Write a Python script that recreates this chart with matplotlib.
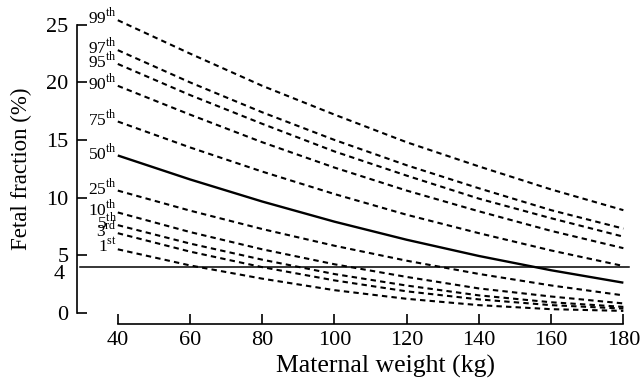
import numpy as np
import matplotlib
matplotlib.use("Agg")
import matplotlib.pyplot as plt
import matplotlib.transforms as mtransforms

plt.rcParams['font.family'] = ['Liberation Serif', 'DejaVu Serif']
plt.rcParams['mathtext.fontset'] = 'custom'
plt.rcParams['mathtext.rm'] = 'Liberation Serif'

# maternal weight (kg)
weight = [40, 60, 80, 100, 120, 140, 160, 180]

# fetal fraction (%) per centile
centiles = ['99', '97', '95', '90', '75', '50', '25', '10', '5', '3', '1']
suffixes = ['th', 'th', 'th', 'th', 'th', 'th', 'th', 'th', 'th', 'rd', 'st']
p99 = [25.4, 22.5, 19.7, 17.2, 14.8, 12.7, 10.7, 8.9]
p97 = [22.8, 20.0, 17.4, 15.0, 12.8, 10.8, 8.9, 7.3]
p95 = [21.6, 18.9, 16.4, 14.0, 11.9, 9.9, 8.2, 6.6]
p90 = [19.7, 17.2, 14.8, 12.6, 10.6, 8.8, 7.1, 5.6]
p75 = [16.6, 14.35, 12.25, 10.3, 8.5, 6.9, 5.4, 4.05]
p50 = [13.65, 11.57, 9.65, 7.9, 6.33, 4.92, 3.68, 2.6]
p25 = [10.6, 8.86, 7.26, 5.81, 4.51, 3.36, 2.36, 1.5]
p10 = [8.7, 7.0, 5.5, 4.2, 3.1, 2.1, 1.4, 0.8]
p5 = [7.6, 6.0, 4.6, 3.35, 2.35, 1.5, 0.9, 0.5]
p3 = [6.9, 5.3, 3.95, 2.8, 1.85, 1.15, 0.65, 0.35]
p1 = [5.5, 4.1, 2.95, 1.95, 1.2, 0.65, 0.3, 0.15]
series = [p99, p97, p95, p90, p75, p50, p25, p10, p5, p3, p1]

cutoff = 4

fig = plt.figure(figsize=(6.4, 3.8), dpi=100)
ax = fig.add_axes([0.1203, 0.147, 0.865, 0.818])

for name, suf, vals in zip(centiles, suffixes, series):
    if name == '50':
        ax.plot(weight, vals, color='black', lw=1.7, solid_capstyle='butt')
    else:
        ax.plot(weight, vals, color='black', lw=1.5, linestyle=(0, (2.6, 2.0)))
    ax.text(39.8, vals[0] + 0.25, name + r'$^{\mathrm{' + suf + '}}$',
            ha='right', va='center', fontsize=12.5)

ax.plot([29.5, 181.5], [cutoff, cutoff], color='black', lw=1.1)

ax.set_xlim(28.7, 182)
ax.set_ylim(-1.0, 26)
ax.spines['top'].set_visible(False)
ax.spines['right'].set_visible(False)
ax.spines['left'].set_bounds(0, 25)
ax.spines['bottom'].set_bounds(40, 180)
for s in ['left', 'bottom']:
    ax.spines[s].set_linewidth(1.2)

ax.set_xticks([40, 60, 80, 100, 120, 140, 160, 180])
ax.set_yticks([0, 5, 10, 15, 20, 25])
ax.tick_params(direction='in', length=7, width=1.2, labelsize=16)
ax.tick_params(axis='y', pad=6)
ax.tick_params(axis='x', pad=5)

# the 4 % cut-off gets a label but no tick, set just under the line
trans = mtransforms.blended_transform_factory(ax.transAxes, ax.transData)
ax.text(-0.023, cutoff - 0.7, '4', transform=trans, ha='right', va='center',
        fontsize=16, clip_on=False)

ax.set_xlabel('Maternal weight (kg)', fontsize=18.5)
ax.set_ylabel('Fetal fraction (%)', fontsize=16.5)
ax.xaxis.set_label_coords(0.558, -0.10)
ax.yaxis.set_label_coords(-0.082, 0.5)

fig.savefig('out.png', dpi=100)
